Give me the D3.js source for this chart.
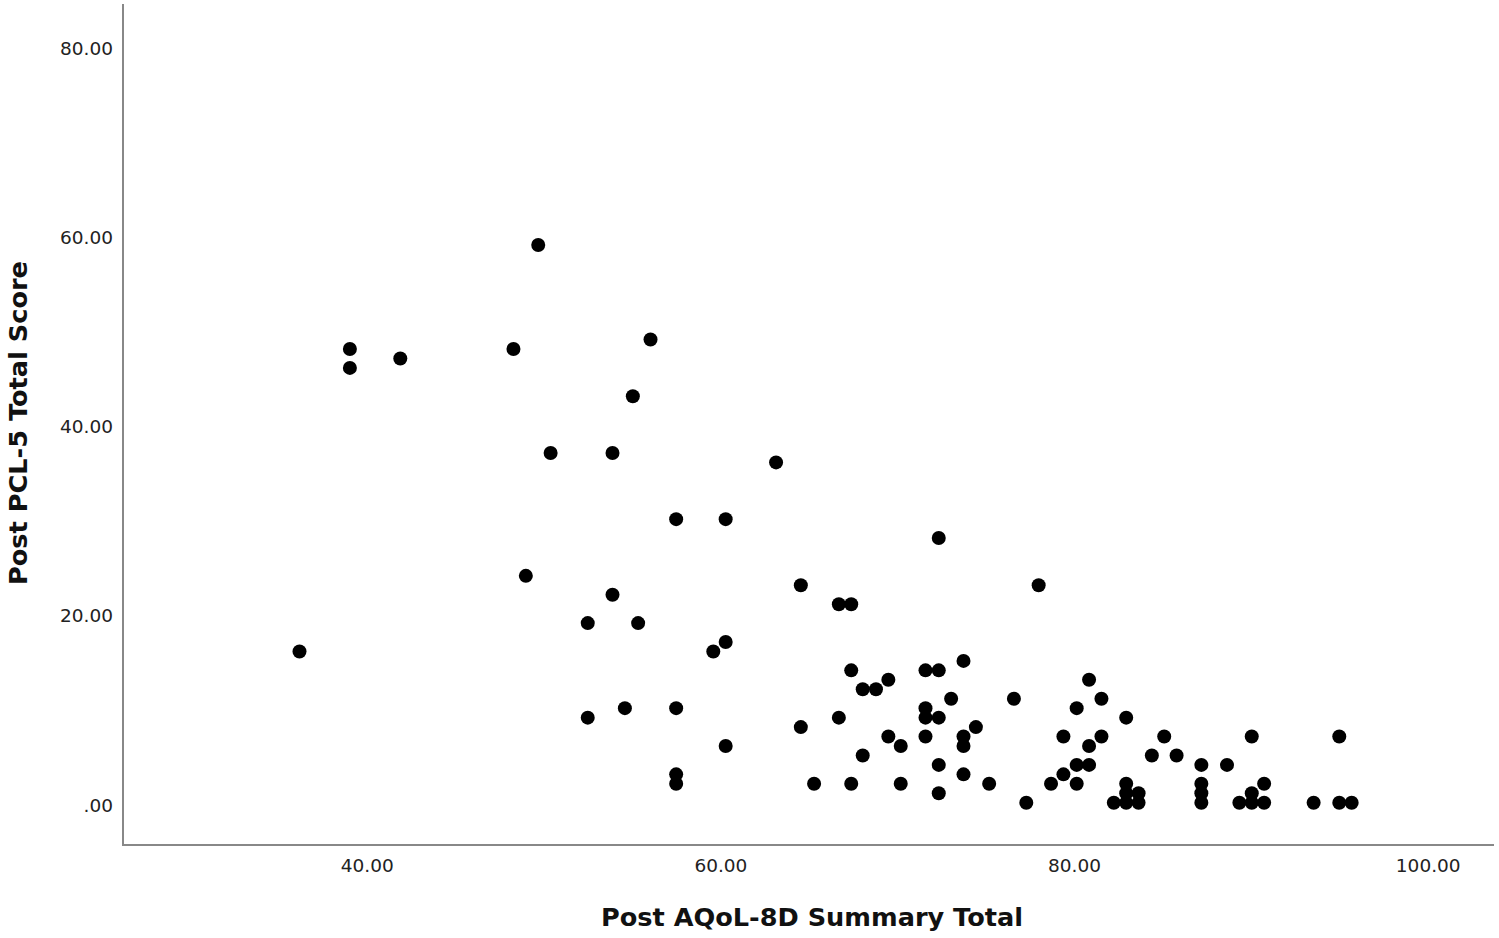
<!DOCTYPE html>
<html>
<head>
<meta charset="utf-8">
<script src="https://cdn.jsdelivr.net/npm/d3@7"></script>
<style>
  body { margin: 0; background: white; }
  svg { display: block; }
</style>
</head>
<body>
<div id="chart-area"></div>
<script>
// Post AQoL-8D summary total (x) vs Post PCL-5 total score (y)
const aqol = [
    36.2, 39.05, 39.05, 41.9, 48.3, 49.0, 49.7, 50.4, 52.5, 52.5,
    53.9, 53.9, 54.6, 55.05, 55.35, 56.05, 57.5, 57.5, 57.5, 57.5,
    59.6, 60.3, 60.3, 60.3, 63.15, 64.55, 64.55, 65.3, 66.7, 66.7,
    67.4, 67.4, 67.4, 68.05, 68.05, 68.8, 69.5, 69.5, 70.2, 70.2,
    71.6, 71.6, 71.6, 71.6, 72.35, 72.35, 72.35, 72.35, 72.35, 73.05,
    73.75, 73.75, 73.75, 73.75, 74.45, 75.2, 76.6, 77.3, 78.0, 78.7,
    79.4, 79.4, 80.15, 80.15, 80.15, 80.85, 80.85, 80.85, 81.55, 81.55,
    82.25, 82.95, 82.95, 82.95, 82.95, 83.65, 83.65, 84.4, 85.1, 85.8,
    87.2, 87.2, 87.2, 87.2, 88.65, 89.35, 90.05, 90.05, 90.05, 90.75,
    90.75, 93.55, 95.0, 95.0, 95.7
]
const pcl = [
    16, 48, 46, 47, 48, 24, 59, 37, 19, 9,
    37, 22, 10, 43, 19, 49, 30, 10, 3, 2,
    16, 30, 17, 6, 36, 23, 8, 2, 21, 9,
    21, 14, 2, 12, 5, 12, 13, 7, 6, 2,
    14, 10, 9, 7, 28, 14, 9, 4, 1, 11,
    15, 7, 6, 3, 8, 2, 11, 0, 23, 2,
    7, 3, 10, 4, 2, 13, 6, 4, 11, 7,
    0, 9, 2, 1, 0, 1, 0, 5, 7, 5,
    4, 2, 1, 0, 4, 0, 7, 1, 0, 2,
    0, 0, 7, 0, 0
]
const xTicks = [40, 60, 80, 100]
const yTicks = [0, 20, 40, 60, 80]

const xTitle = "Post AQoL-8D Summary Total"
const yTitle = "Post PCL-5 Total Score"

const width = 1499, height = 938
// plot frame (axis lines)
const frame = {left: 123, right: 1494, top: 4, bottom: 845}

const svg = d3.select("#chart-area").append("svg")
    .attr("width", width)
    .attr("height", height)
    .attr("style", "background: white")

const x = d3.scaleLinear()
    .domain([40, 100])
    .range([366.7, 1427.7])

const y = d3.scaleLinear()
    .domain([0, 80])
    .range([802.7, 46.5])

// fmt: SPSS style, "40.00" and ".00"
const fmt = v => v === 0 ? ".00" : d3.format(".2f")(v)

const xAxis = d3.axisBottom(x)
    .tickValues(xTicks)
    .tickFormat(fmt)
    .tickSize(0)
    .tickPadding(14)

const yAxis = d3.axisLeft(y)
    .tickValues(yTicks)
    .tickFormat(fmt)
    .tickSize(0)
    .tickPadding(10)

const gx = svg.append("g")
    .attr("class", "x axis")
    .attr("transform", `translate(0, ${frame.bottom})`)
    .call(xAxis)

const gy = svg.append("g")
    .attr("class", "y axis")
    .attr("transform", `translate(${frame.left}, 0)`)
    .call(yAxis)

svg.selectAll(".axis .domain").remove()
svg.selectAll(".axis text")
    .attr("font-family", "'DejaVu Sans', sans-serif")
    .attr("font-size", "18.5px")
    .attr("fill", "#222")

// SPSS puts the y labels a touch below the value
gy.selectAll("text").attr("dy", "0.45em")

// axis lines span the whole frame
svg.append("line")
    .attr("x1", frame.left).attr("x2", frame.left)
    .attr("y1", frame.top).attr("y2", frame.bottom)
    .attr("stroke", "#888").attr("stroke-width", 2)

svg.append("line")
    .attr("x1", frame.left - 1).attr("x2", frame.right)
    .attr("y1", frame.bottom).attr("y2", frame.bottom)
    .attr("stroke", "#888").attr("stroke-width", 2)

// points
svg.append("g")
    .selectAll("circle")
    .data(d3.zip(aqol, pcl))
    .join("circle")
    .attr("cx", d => x(d[0]))
    .attr("cy", d => y(d[1]))
    .attr("r", 7)
    .attr("fill", "#000")

// X Label
svg.append("text")
    .attr("x", 812)
    .attr("y", 926)
    .attr("text-anchor", "middle")
    .attr("font-family", "'DejaVu Sans', sans-serif")
    .attr("font-weight", "bold")
    .attr("font-size", "25px")
    .attr("fill", "#111")
    .attr("textLength", 422)
    .attr("lengthAdjust", "spacingAndGlyphs")
    .text(xTitle)

// Y Label
svg.append("text")
    .attr("transform", "translate(27, 423) rotate(-90)")
    .attr("text-anchor", "middle")
    .attr("font-family", "'DejaVu Sans', sans-serif")
    .attr("font-weight", "bold")
    .attr("font-size", "25px")
    .attr("fill", "#111")
    .attr("textLength", 324)
    .attr("lengthAdjust", "spacingAndGlyphs")
    .text(yTitle)
</script>
</body>
</html>
